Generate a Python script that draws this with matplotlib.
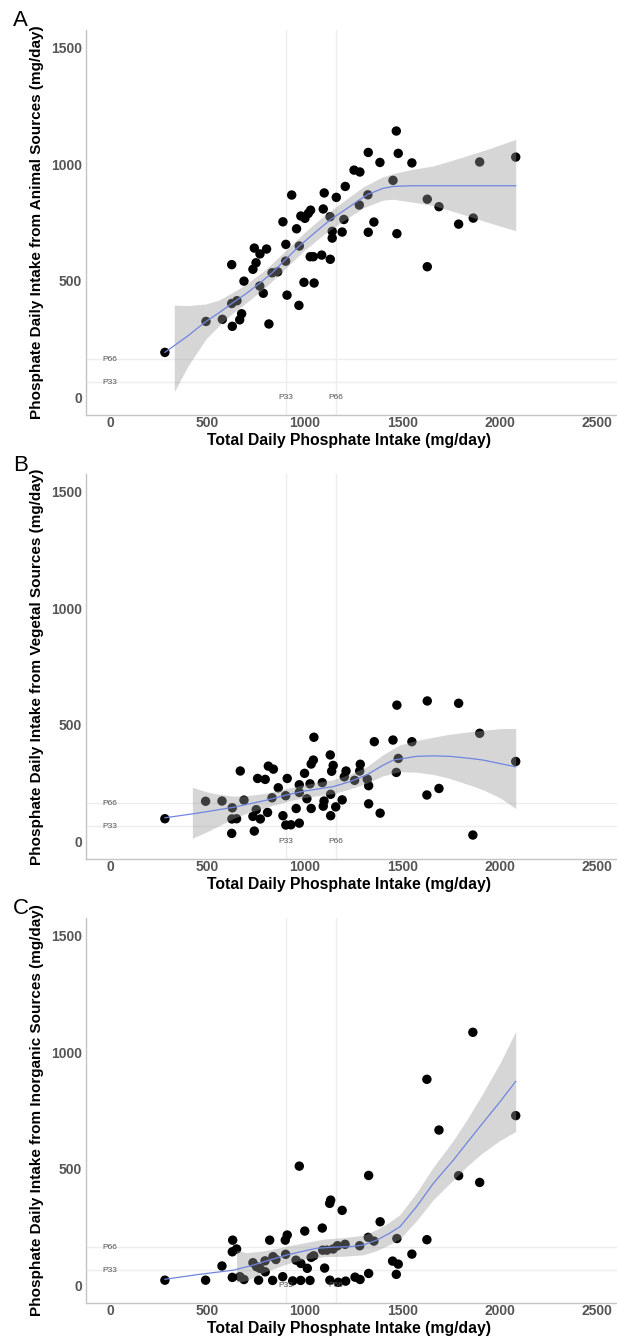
import matplotlib
matplotlib.use('Agg')
import matplotlib.pyplot as plt

plt.rcParams['font.family'] = ['Liberation Sans', 'DejaVu Sans']

# ---------------- data ----------------
# Panel A: animal sources
xA = [1470, 1326, 1480, 1386, 1550, 1898, 2083, 1253, 1283, 1453, 1208, 933, 1100, 1162, 1324,
      1629, 1689, 1280, 1095, 1030, 1018, 980, 1001, 1130, 1201, 1355, 888, 958, 1865, 1790,
      1141, 1192, 1326, 1473, 1141, 903, 972, 741, 804, 770, 1028, 1044, 1087, 1131, 902,
      750, 625, 1629, 734, 832, 861, 688, 769, 787, 996, 1048, 909, 970, 625, 652,
      676, 666, 628, 577, 493, 816, 282]
yA = [1143, 1051, 1047, 1008, 1006, 1010, 1031, 975, 967, 931, 905, 868, 877, 858, 869,
      850, 818, 825, 808, 803, 789, 778, 768, 775, 763, 752, 753, 723, 769, 743,
      712, 709, 708, 702, 683, 656, 649, 640, 636, 615, 603, 603, 610, 592, 584,
      577, 569, 560, 549, 534, 538, 498, 477, 446, 493, 490, 438, 394, 402, 414,
      358, 332, 304, 334, 325, 314, 192]
fitA_x = [282, 400, 493, 560, 625, 700, 770, 833, 900, 972, 1050, 1130, 1206, 1280, 1324,
          1403, 1453, 1550, 1660, 1800, 1950, 2083]
fitA_y = [192, 263, 325, 362, 402, 445, 490, 534, 590, 649, 705, 761, 804, 847, 871,
          897, 905, 908, 908, 908, 908, 908]
bandA_x = [330, 400, 493, 560, 625, 700, 800, 900, 1000, 1100, 1200, 1300, 1400, 1453,
           1550, 1660, 1800, 1950, 2083]
bandA_lo = [23, 133, 250, 307, 357, 405, 473, 552, 632, 700, 758, 813, 846, 850,
            838, 823, 788, 748, 715]
bandA_hi = [395, 393, 400, 417, 447, 485, 549, 628, 708, 780, 842, 903, 946, 960,
            978, 993, 1028, 1068, 1107]

# Panel B: vegetal sources
xB = [1473, 1629, 1790, 1898, 1047, 1357, 1453, 1550, 2083, 1131, 1044, 1033, 1146, 1285,
      1480, 1470, 669, 813, 839, 758, 797, 910, 999, 1138, 1212, 1203, 1282, 1256, 1321,
      1328, 864, 972, 1027, 1090, 972, 1011, 1133, 902, 832, 491, 575, 688, 628, 751,
      809, 956, 1033, 1095, 1099, 1159, 1192, 1328, 1387, 1627, 1689, 1863, 282, 626,
      650, 734, 772, 888, 903, 929, 972, 625, 741, 1133]
yB = [584, 602, 592, 463, 446, 427, 434, 427, 342, 370, 348, 331, 325, 330,
      355, 295, 301, 322, 309, 269, 265, 269, 291, 300, 301, 276, 301, 261, 266,
      238, 229, 242, 246, 251, 209, 182, 201, 195, 186, 171, 172, 176, 143, 135,
      123, 140, 140, 150, 172, 147, 177, 160, 120, 198, 226, 26, 96, 95,
      96, 106, 95, 109, 69, 70, 77, 33, 43, 109]
fitB_x = [282, 450, 633, 800, 907, 1000, 1147, 1230, 1318, 1400, 1455, 1574, 1660, 1745,
          1850, 1916, 2083]
fitB_y = [100, 120, 145, 175, 198, 215, 234, 255, 284, 325, 348, 364, 366, 364,
          355, 348, 319]
bandB_x = [423, 500, 550, 633, 700, 800, 907, 1000, 1147, 1230, 1318, 1400, 1487, 1574,
           1660, 1745, 1850, 1916, 2000, 2083]
bandB_lo = [12, 41, 62, 97, 119, 145, 170, 187, 204, 223, 249, 280, 298, 296,
            286, 269, 240, 220, 187, 140]
bandB_hi = [231, 211, 202, 193, 195, 205, 226, 243, 264, 287, 319, 370, 413, 432,
            446, 459, 470, 476, 483, 484]

# Panel C: inorganic sources
xC = [1863, 1627, 2083, 1689, 972, 1328, 1790, 1898, 1133, 1128, 1192, 1387, 1000, 1090,
      820, 630, 910, 900, 1326, 1355, 1473, 1627, 1282, 1207, 1168, 1146, 1114, 1092,
      628, 650, 902, 837, 796, 852, 734, 955, 980, 1033, 1046, 1013, 1102, 1550, 1451,
      1480, 1470, 575, 753, 770, 797, 667, 688, 628, 282, 491, 763, 835, 887, 938,
      979, 1027, 1129, 1172, 1210, 1258, 1284, 1328]
yC = [1086, 884, 728, 666, 511, 471, 470, 441, 365, 351, 321, 272, 232, 245,
      193, 193, 215, 193, 205, 189, 200, 195, 169, 175, 169, 155, 150, 150,
      143, 155, 132, 122, 104, 110, 96, 107, 93, 119, 126, 72, 73, 133, 103,
      90, 46, 82, 79, 72, 57, 36, 24, 33, 21, 21, 21, 20, 36, 18,
      20, 20, 21, 12, 17, 34, 24, 50]
fitC_x = [282, 450, 633, 736, 820, 907, 1000, 1061, 1150, 1232, 1300, 1369, 1430, 1489,
          1574, 1660, 1763, 1831, 1908, 2000, 2083]
fitC_y = [25, 45, 64, 86, 108, 129, 147, 158, 163, 165, 172, 193, 220, 251,
          337, 437, 537, 609, 690, 785, 875]
bandC_x = [650, 700, 800, 907, 1000, 1100, 1200, 1300, 1369, 1430, 1489, 1574, 1660,
           1763, 1831, 1908, 2000, 2083]
bandC_lo = [12, 19, 58, 91, 112, 122, 124, 130, 148, 172, 199, 277, 367,
            452, 509, 565, 620, 660]
bandC_hi = [150, 139, 148, 167, 182, 198, 204, 214, 238, 268, 303, 397, 507,
            622, 709, 815, 950, 1090]

# percentile reference values
P33_total, P66_total = 903, 1160
P33_y, P66_y = 63, 162

x_ticks = [0, 500, 1000, 1500, 2000, 2500]
y_ticks = [0, 500, 1000, 1500]

xlabel = 'Total Daily Phosphate Intake (mg/day)'
ylabels = ['Phosphate Daily Intake from Animal Sources (mg/day)',
           'Phosphate Daily Intake from Vegetal Sources (mg/day)',
           'Phosphate Daily Intake from Inorganic Sources (mg/day)']
letters = ['A', 'B', 'C']

panels = [
    (xA, yA, fitA_x, fitA_y, bandA_x, bandA_lo, bandA_hi),
    (xB, yB, fitB_x, fitB_y, bandB_x, bandB_lo, bandB_hi),
    (xC, yC, fitC_x, fitC_y, bandC_x, bandC_lo, bandC_hi),
]

# ---------------- layout ----------------
W, H = 617, 1336
fig = plt.figure(figsize=(W / 100, H / 100), dpi=100)

ax_left_px, ax_right_px = 86, 617
ax_top_px = [30, 474, 918]
ax_h_px = 385

for i, (px, py, fx, fy, bx, blo, bhi) in enumerate(panels):
    top = ax_top_px[i]
    rect = [ax_left_px / W, (H - top - ax_h_px) / H,
            (ax_right_px - ax_left_px) / W, ax_h_px / H]
    ax = fig.add_axes(rect)
    ax.set_xlim(-123, 2603)
    ax.set_ylim(-77, 1577)

    # reference lines
    for v in (P33_total, P66_total):
        ax.axvline(v, color='#ededed', lw=1.0, zorder=0)
    for h in (P33_y, P66_y):
        ax.axhline(h, color='#ededed', lw=1.0, zorder=0)

    ax.scatter(px, py, s=46, color='black', edgecolors='none', zorder=2)
    ax.fill_between(bx, blo, bhi, color='#999999', alpha=0.4, lw=0, zorder=3)
    ax.plot(fx, fy, color='#7085e0', lw=0.9, zorder=4)

    # percentile labels
    ax.text(P33_total, 0, 'P33', ha='center', va='center', fontsize=6, color='#555555', zorder=5)
    ax.text(P66_total, 0, 'P66', ha='center', va='center', fontsize=6, color='#555555', zorder=5)
    ax.text(0, P66_y, 'P66', ha='center', va='center', fontsize=6, color='#555555', zorder=5)
    ax.text(0, P33_y, 'P33', ha='center', va='center', fontsize=6, color='#555555', zorder=5)

    ax.set_xticks(x_ticks)
    ax.set_yticks(y_ticks)
    ax.tick_params(length=0, labelsize=10, labelcolor='#555555')
    ax.tick_params(axis='x', pad=0.5)
    ax.tick_params(axis='y', pad=3)
    for lbl in ax.get_xticklabels() + ax.get_yticklabels():
        lbl.set_fontweight('bold')

    for s in ('top', 'right'):
        ax.spines[s].set_visible(False)
    for s in ('left', 'bottom'):
        ax.spines[s].set_color('#c4c4c4')
        ax.spines[s].set_linewidth(1.0)

    ax.text(0.495, -25 / ax_h_px, xlabel, transform=ax.transAxes, ha='center', va='center',
            fontsize=11.3, fontweight='bold', color='black')
    ax.text((37 - ax_left_px) / (ax_right_px - ax_left_px), 0.5, ylabels[i],
            transform=ax.transAxes, ha='center', va='center', rotation=90,
            fontsize=11, fontweight='bold', color='black')

    fig.text(20.5 / W, 1 - (21 + 444 * i) / H, letters[i], ha='center', va='center',
             fontsize=16, color='black')

fig.savefig('out.png', dpi=100)
